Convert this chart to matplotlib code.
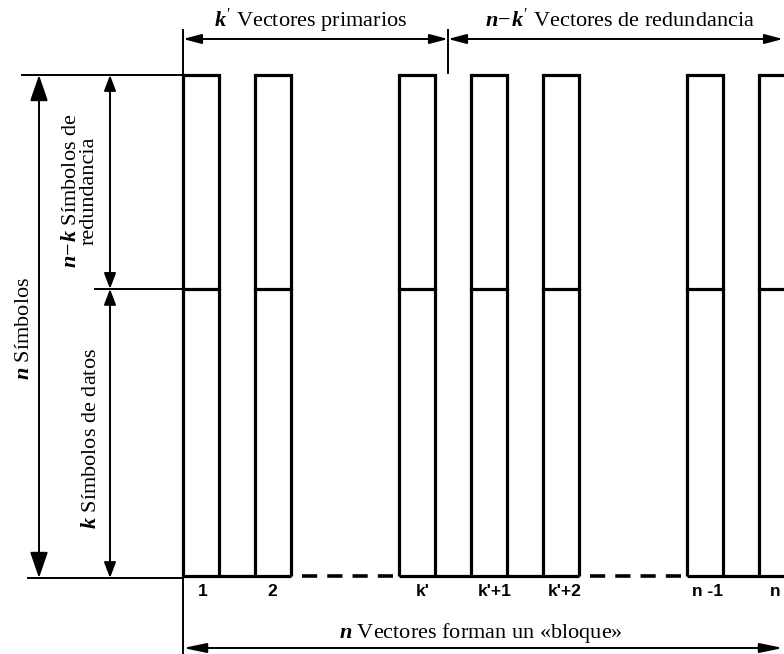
import matplotlib
matplotlib.use("Agg")
import matplotlib.pyplot as plt
from matplotlib.patches import FancyArrowPatch

# ---- data ----
bar_labels = ['1', '2', "k'", "k'+1", "k'+2", 'n -1', 'n']
bar_slots = [0, 1, 3, 4, 5, 7, 8]          # slot index of each vector
gap_slots = [(1, 3), (5, 7)]               # dashed continuation between slots
n_symbols = 1.0                            # total block height (normalised)
k_fraction = 0.573                         # share of data symbols (k/n)
top_titles = ["$k'$ Vectores primarios", "$n\\!-\\!k'$ Vectores de redundancia"]
left_titles = ["$n$ Símbolos", "$n\\!-\\!k$ Símbolos de\nredundancia", "$k$ Símbolos de datos"]
bottom_title = "$n$ Vectores forman un «bloque»"

# ---- layout (pixel-like coordinates) ----
W, H = 784, 654
x0, slot_w, bar_w = 183, 72, 36
y_top, y_bot = 75, 576
def ymap(v):
    return y_bot - v * (y_bot - y_top)
y_mid = ymap(k_fraction * n_symbols)

plt.rcParams['mathtext.fontset'] = 'custom'
plt.rcParams['mathtext.it'] = 'Liberation Serif:italic:bold'
plt.rcParams['mathtext.rm'] = 'Liberation Serif'

fig = plt.figure(figsize=(W/100, H/100), dpi=100)
ax = fig.add_axes([0, 0, 1, 1])
ax.set_xlim(0, W)
ax.set_ylim(H, 0)
ax.axis('off')

lw_bar = 2.3
lw_thin = 1.4
serif = 'Liberation Serif'
fs = 16

# bars
label_dx = [20, 17, 24, 24, 22, 21, 16]
for slot, lab, dx in zip(bar_slots, bar_labels, label_dx):
    xl = x0 + slot * slot_w
    xr = xl + bar_w
    ax.plot([xl, xl, xr, xr], [y_bot, y_top, y_top, y_bot], color='black', lw=lw_bar,
            solid_joinstyle='miter', solid_capstyle='butt')
    ax.plot([xl, xr], [y_mid, y_mid], color='black', lw=lw_bar)
    ax.text(xl + dx, 592, lab, ha='center', va='center', fontsize=12.5,
            fontweight='bold', family='Liberation Sans')

# baseline: solid under groups, dashed between
groups = [(0, 1), (3, 5), (7, 8)]
for a, b in groups:
    ax.plot([x0 + a*slot_w, x0 + b*slot_w + bar_w + 30], [y_bot, y_bot], color='black',
            lw=lw_bar, solid_capstyle='butt') if b == 8 else \
    ax.plot([x0 + a*slot_w, x0 + b*slot_w + bar_w], [y_bot, y_bot], color='black',
            lw=lw_bar, solid_capstyle='butt')
for a, b in gap_slots:
    ax.plot([x0 + a*slot_w + bar_w + 11, x0 + b*slot_w - 6], [y_bot, y_bot], color='black',
            lw=2.6, dashes=(4.2, 2.8), solid_capstyle='butt', dash_capstyle='butt')

# extension lines on the left
ax.plot([22, x0], [y_top, y_top], color='black', lw=lw_thin)
ax.plot([95, x0], [y_mid, y_mid], color='black', lw=lw_thin)
ax.plot([28, x0], [y_bot + 2, y_bot + 2], color='black', lw=lw_thin)
ax.plot([x0, x0], [30, 654], color='black', lw=lw_thin)
ax.plot([448, 448], [30, 73], color='black', lw=lw_thin)

def dim(p1, p2, hl, hw, lw=lw_thin):
    a = FancyArrowPatch(p1, p2, arrowstyle=f'<|-|>,head_length={hl},head_width={hw}',
                        mutation_scale=1, lw=lw, color='black', shrinkA=0, shrinkB=0)
    ax.add_patch(a)

# vertical dimension arrows
dim((39, y_top), (39, y_bot + 2), 16, 5.5)
dim((110, y_top), (110, y_mid), 9.5, 3.6)
dim((110, y_mid), (110, y_bot + 2), 9.5, 3.6)
# top dimension arrows
dim((x0, 39), (448, 39), 11, 2.9)
dim((448, 39), (W - 1, 39), 11, 2.9)
# bottom dimension arrow
dim((x0, 648), (W - 1, 648), 14, 2.9)

# texts
ax.text(311, 27, top_titles[0], ha='center', va='baseline', fontsize=fs, family=serif)
ax.text(620, 27, top_titles[1], ha='center', va='baseline', fontsize=fs, family=serif)
ax.text(25, 328, left_titles[0], ha='center', va='center', rotation=90, fontsize=fs, family=serif)
ax.text(80, 191, left_titles[1], ha='center', va='center', rotation=90, fontsize=fs,
        family=serif, linespacing=0.9)
ax.text(92, 439, left_titles[2], ha='center', va='center', rotation=90, fontsize=fs, family=serif)
ax.text(481, 638, bottom_title, ha='center', va='baseline', fontsize=fs, family=serif)

fig.savefig('out.png', dpi=100)
